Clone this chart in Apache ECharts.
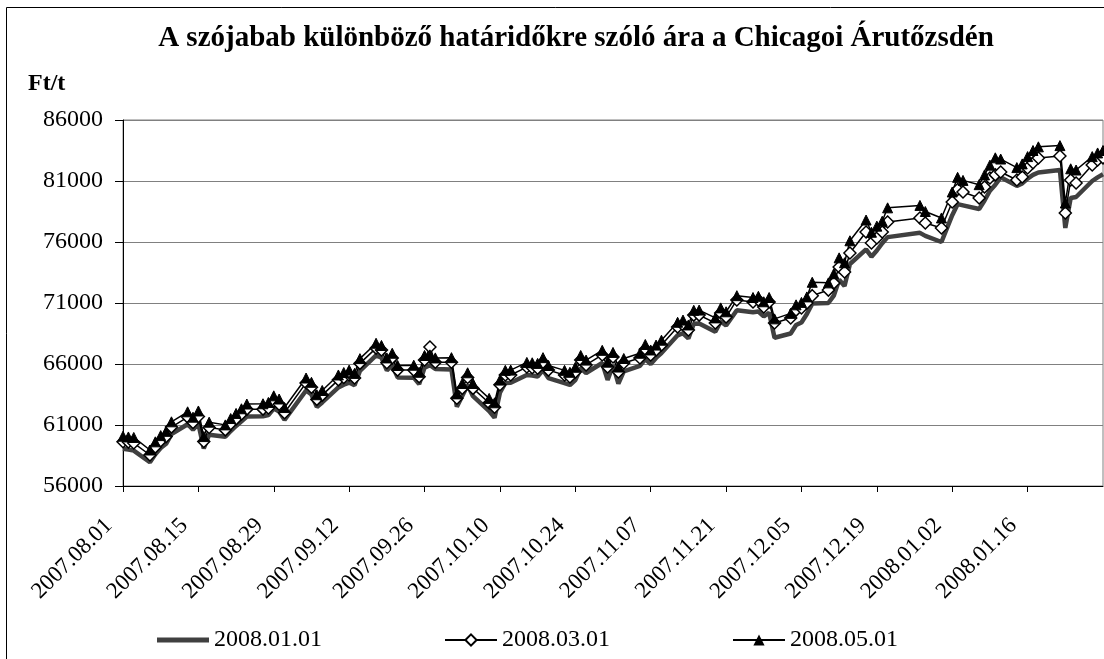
<!DOCTYPE html>
<html lang="hu">
<head>
<meta charset="UTF-8">
<title>Szójabab határidős árak</title>
<script src="https://cdn.jsdelivr.net/npm/echarts@6/dist/echarts.min.js"></script>
<style>
  html, body { margin: 0; padding: 0; background: #fff; }
  #main { width: 1104px; height: 659px; }
</style>
</head>
<body>
<div id="main"></div>
<script type="text/javascript">
    // kereskedési napok
    var dates = [
        '2007.08.01','2007.08.02','2007.08.03','2007.08.06','2007.08.07','2007.08.08','2007.08.09','2007.08.10','2007.08.13','2007.08.14','2007.08.15','2007.08.16','2007.08.17','2007.08.20','2007.08.21','2007.08.22','2007.08.23','2007.08.24','2007.08.27','2007.08.28','2007.08.29','2007.08.30','2007.08.31',
        '2007.09.04','2007.09.05','2007.09.06','2007.09.07','2007.09.10','2007.09.11','2007.09.12','2007.09.13','2007.09.14','2007.09.17','2007.09.18','2007.09.19','2007.09.20','2007.09.21','2007.09.24','2007.09.25','2007.09.26','2007.09.27','2007.09.28',
        '2007.10.01','2007.10.02','2007.10.03','2007.10.04','2007.10.05','2007.10.08','2007.10.09','2007.10.10','2007.10.11','2007.10.12','2007.10.15','2007.10.16','2007.10.17','2007.10.18','2007.10.19','2007.10.22','2007.10.23','2007.10.24','2007.10.25','2007.10.26','2007.10.29','2007.10.30','2007.10.31',
        '2007.11.01','2007.11.02','2007.11.05','2007.11.06','2007.11.07','2007.11.08','2007.11.09','2007.11.12','2007.11.13','2007.11.14','2007.11.15','2007.11.16','2007.11.19','2007.11.20','2007.11.21','2007.11.23','2007.11.26','2007.11.27','2007.11.28','2007.11.29','2007.11.30',
        '2007.12.03','2007.12.04','2007.12.05','2007.12.06','2007.12.07','2007.12.10','2007.12.11','2007.12.12','2007.12.13','2007.12.14','2007.12.17','2007.12.18','2007.12.19','2007.12.20','2007.12.21','2007.12.27','2007.12.28','2007.12.31',
        '2008.01.02','2008.01.03','2008.01.04','2008.01.07','2008.01.08','2008.01.09','2008.01.10','2008.01.11','2008.01.14','2008.01.15','2008.01.16','2008.01.17','2008.01.18','2008.01.22','2008.01.23','2008.01.24','2008.01.25','2008.01.28','2008.01.29','2008.01.30'
    ];

    // 2008.01.01-es lejárat (Ft/t)
    var jan2008 = [
        59050, 58980, 58900, 57950, 58600, 59120, 59460, 60250, 61060, 60620, 61100, 59080, 60200, 60030, 60510, 60920, 61300, 61700, 61720, 61810, 62350, 62110, 61420,
        63830, 63500, 62480, 62850, 64080, 64300, 64480, 64260, 65430, 66700, 66530, 65480, 65900, 64900, 64880, 64350, 65700, 65900, 65600,
        65550, 62500, 63380, 64280, 63360, 62150, 61600, 63650, 64450, 64460, 65100, 65050, 64980, 65500, 64850, 64430, 64280, 64680, 65670, 65260, 66080, 64700, 65900,
        64400, 65400, 65850, 66400, 66000, 66500, 66900, 68350, 68520, 68100, 69300, 69320, 68650, 69480, 69150, 70400, 70250, 70300, 69900, 70200, 68150,
        68500, 69200, 69400, 70100, 70950, 71000, 71600, 72900, 72400, 74200, 75400, 74800, 75300, 75900, 76400, 76750, 76500, 76000,
        78200, 79100, 79000, 78700, 79400, 80200, 80700, 81300, 80600, 80800, 81200, 81500, 81700, 81900, 77150, 79610, 79690, 81000, 81300, 81550
    ];

    // 2008.03.01-es lejárat
    var mar2008 = [
        59630, 59600, 59520, 58540, 59190, 59700, 60050, 60830, 61650, 61200, 61700, 59650, 60800, 60600, 61100, 61500, 61900, 62300, 62300, 62400, 62950, 62700, 62000,
        64450, 64100, 63100, 63450, 64700, 64900, 65100, 64850, 66050, 67300, 67150, 66100, 66500, 65500, 65500, 64950, 66330, 67390, 66150,
        66150, 63200, 64000, 64900, 64000, 62800, 62450, 64300, 65100, 65100, 65750, 65700, 65650, 66150, 65500, 65100, 64930, 65340, 66330, 65920, 66740, 65750, 66570,
        65340, 66080, 66490, 67200, 66740, 67150, 67560, 69030, 69200, 68790, 70010, 70010, 69360, 70180, 69850, 71250, 71080, 71250, 70670, 71080, 69360,
        69770, 70420, 70590, 71000, 71600, 72060, 72640, 73950, 73540, 75100, 76820, 75920, 76330, 76820, 77640, 77970, 77560, 77150,
        79280, 80300, 80100, 79610, 80510, 81250, 81500, 81740, 81080, 81330, 82070, 82500, 82890, 83050, 78380, 81080, 80840, 82310, 82720, 82900
    ];

    // 2008.05.01-es lejárat
    var may2008 = [
        60080, 60020, 59980, 58950, 59620, 60130, 60480, 61260, 62080, 61640, 62150, 60050, 61230, 61010, 61530, 61950, 62330, 62720, 62740, 62850, 63390, 63130, 62430,
        64850, 64500, 63480, 63830, 65100, 65300, 65500, 65230, 66440, 67700, 67520, 66500, 66880, 65880, 65900, 65320, 66700, 66750, 66500,
        66520, 63550, 64400, 65280, 64400, 63180, 62820, 64680, 65480, 65500, 66130, 66100, 66050, 66520, 65880, 65480, 65320, 65730, 66700, 66320, 67120, 66150, 66950,
        65750, 66450, 66880, 67600, 67150, 67550, 67950, 69420, 69600, 69200, 70400, 70420, 69780, 70600, 70280, 71600, 71450, 71550, 71100, 71450, 69700,
        70150, 70850, 71050, 71500, 72700, 72650, 73400, 74700, 74300, 76100, 77800, 76800, 77300, 77700, 78800, 79000, 78500, 77970,
        80100, 81300, 81050, 80700, 81500, 82300, 82900, 82800, 82100, 82400, 83000, 83500, 83800, 83900, 79200, 82000, 81900, 83000, 83300, 83500
    ];

    var seriesNames = ['2008.01.01', '2008.03.01', '2008.05.01'];

    var DAY = 86400000;
    var base = Date.UTC(2007, 7, 1);

    // dátum -> napok száma 2007.08.01 óta
    function dayOf(s) {
        var p = s.split('.');
        return Math.round((Date.UTC(+p[0], +p[1] - 1, +p[2]) - base) / DAY);
    }

    function fmt(d) {
        var t = new Date(base + d * DAY);
        var m = t.getUTCMonth() + 1, dd = t.getUTCDate();
        return t.getUTCFullYear() + '.' + (m < 10 ? '0' : '') + m + '.' + (dd < 10 ? '0' : '') + dd;
    }

    function pairs(values) {
        var out = [];
        for (var i = 0; i < dates.length; i++) {
            out.push([dayOf(dates[i]), values[i]]);
        }
        return out;
    }

    var font = 'Liberation Serif, Times New Roman, serif';
    var myChart = echarts.init(document.getElementById('main'), null, {renderer: 'canvas'});

    var option = {
        animation: false,
        backgroundColor: '#fff',
        title: {
            text: 'A szójabab különböző határidőkre szóló ára a Chicagoi Árutőzsdén',
            left: 571,
            top: 19,
            textAlign: 'center',
            textStyle: {fontFamily: font, fontSize: 29, fontWeight: 'bold', color: '#000'}
        },
        graphic: [
            {
                type: 'rect',
                shape: {x: 6.5, y: 7.5, width: 1200, height: 700},
                style: {fill: 'none', stroke: '#000', lineWidth: 1},
                silent: true
            },
            {
                type: 'text',
                left: 28,
                top: 72,
                style: {text: 'Ft/t', fontFamily: font, fontSize: 24, fontWeight: 'bold', fill: '#000'}
            }
        ],
        legend: {
            left: 152,
            top: 623,
            itemWidth: 52,
            itemHeight: 14,
            itemGap: 122,
            symbolKeepAspect: true,
            textStyle: {fontFamily: font, fontSize: 24, color: '#000'},
            data: [
                // vastag vonal, jelölő nélkül
                {name: seriesNames[0], icon: 'path://M0,0 L52,0 L52,5 L0,5 Z'},
                seriesNames[1],
                seriesNames[2]
            ]
        },
        grid: {
            left: 123,
            right: 1,
            top: 120,
            bottom: 173,
            show: true,
            borderColor: '#808080',
            borderWidth: 1
        },
        xAxis: {
            type: 'value',
            min: 0,
            max: 182,
            interval: 14,
            axisLine: {lineStyle: {color: '#000', width: 1}},
            axisTick: {inside: false, length: 6, lineStyle: {color: '#000'}},
            splitLine: {show: false},
            axisLabel: {
                rotate: 45,
                margin: 22,
                padding: [0, 20, 0, 0],
                showMaxLabel: false,
                fontFamily: font,
                fontSize: 23,
                color: '#000',
                formatter: function (v) { return fmt(v); }
            }
        },
        yAxis: {
            type: 'value',
            min: 56000,
            max: 86000,
            interval: 5000,
            axisLine: {show: true, lineStyle: {color: '#000', width: 1}},
            axisTick: {show: true, inside: false, length: 8, lineStyle: {color: '#000'}},
            splitLine: {show: true, lineStyle: {color: '#808080', width: 1}},
            axisLabel: {
                margin: 20,
                fontFamily: font,
                fontSize: 24,
                color: '#000',
                formatter: function (v) { return String(v); }
            }
        },
        series: [
            {
                name: seriesNames[0],
                type: 'line',
                symbol: 'none',
                lineStyle: {color: '#404040', width: 4.5},
                itemStyle: {color: '#404040'},
                data: pairs(jan2008)
            },
            {
                name: seriesNames[1],
                type: 'line',
                symbol: 'diamond',
                symbolSize: 12,
                showAllSymbol: true,
                lineStyle: {color: '#000', width: 1.5},
                itemStyle: {color: '#fff', borderColor: '#000', borderWidth: 1.5},
                data: pairs(mar2008)
            },
            {
                name: seriesNames[2],
                type: 'line',
                symbol: 'triangle',
                symbolSize: 10,
                showAllSymbol: true,
                lineStyle: {color: '#000', width: 1.5},
                itemStyle: {color: '#000', borderColor: '#000'},
                data: pairs(may2008)
            }
        ]
    };

    myChart.setOption(option);
</script>
</body>
</html>
